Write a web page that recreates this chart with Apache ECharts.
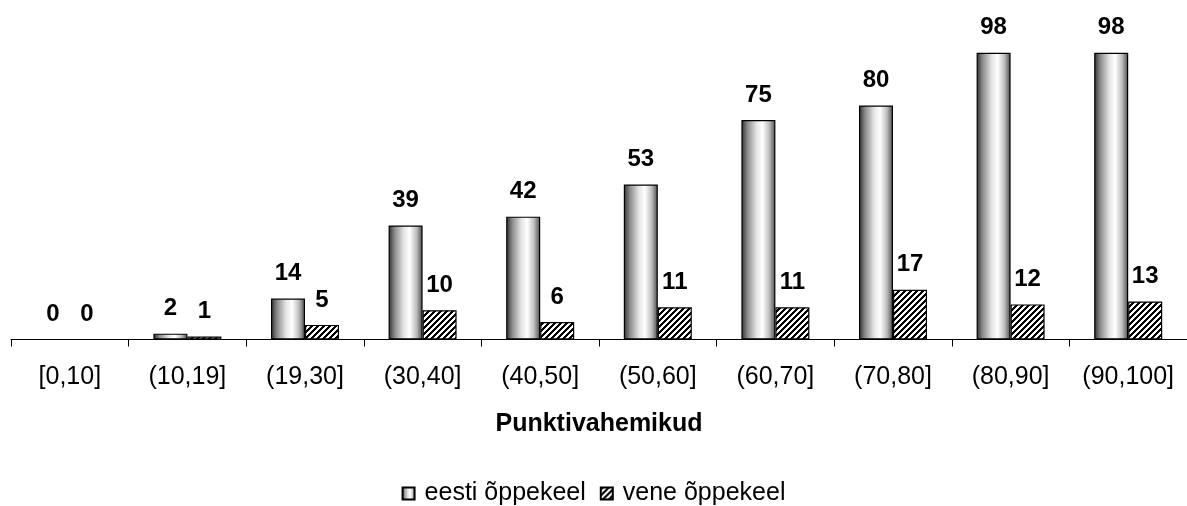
<!DOCTYPE html>
<html>
<head>
<meta charset="utf-8">
<script src="https://cdn.jsdelivr.net/npm/echarts@6/dist/echarts.min.js"></script>
<style>
html,body{margin:0;padding:0;background:#fff;}
#chart{width:1187px;height:506px;}
</style>
</head>
<body>
<div id="chart"></div>
<script>
var categories = ['[0,10]','(10,19]','(19,30]','(30,40]','(40,50]','(50,60]','(60,70]','(70,80]','(80,90]','(90,100]'];
var seriesNames = ['eesti õppekeel','vene õppekeel'];
var eestiValues = [0,2,14,39,42,53,75,80,98,98];
var veneValues = [0,1,5,10,6,11,11,17,12,13];
var axisTitle = 'Punktivahemikud';

function makeHatch(){
  var size = 6;
  var c = document.createElement('canvas');
  c.width = size; c.height = size;
  var ctx = c.getContext('2d');
  var img = ctx.createImageData(size,size);
  for (var y=0;y<size;y++){
    for (var x=0;x<size;x++){
      var v = ((x+y)%size) < 3 ? 0 : 255;
      var i = (y*size+x)*4;
      img.data[i]=v;img.data[i+1]=v;img.data[i+2]=v;img.data[i+3]=255;
    }
  }
  ctx.putImageData(img,0,0);
  return c;
}

var chart = echarts.init(document.getElementById('chart'), null, {renderer:'canvas'});
var font = 'Liberation Sans, Arial, sans-serif';
var cylinder = new echarts.graphic.LinearGradient(0,0,1,0,[
  {offset:0, color:'#2e2e2e'},
  {offset:0.18, color:'#8c8c8c'},
  {offset:0.45, color:'#e6e6e6'},
  {offset:0.62, color:'#ffffff'},
  {offset:0.82, color:'#bdbdbd'},
  {offset:1, color:'#4a4a4a'}
]);
var labelCfg = {
  show:true, position:'top', distance:13, color:'#000',
  fontFamily:font, fontSize:24, fontWeight:'bold'
};
chart.setOption({
  animation:false,
  backgroundColor:'#fff',
  grid:{left:11, top:47, width:1178.5, height:292.5, containLabel:false},
  legend:{
    data:seriesNames,
    icon:'rect',
    left:'center', top:481, padding:0,
    itemWidth:12, itemHeight:12, itemGap:14,
    textStyle:{fontFamily:font, fontSize:25, color:'#000', padding:[0,0,0,5]}
  },
  xAxis:{
    type:'category', data:categories,
    boundaryGap:true,
    axisLine:{show:true, lineStyle:{color:'#000', width:1}},
    axisTick:{show:true, length:7, alignWithLabel:false, lineStyle:{color:'#000'}},
    axisLabel:{color:'#000', fontFamily:font, fontSize:25, margin:25, interval:0},
    name:axisTitle, nameLocation:'middle', nameGap:72,
    nameTextStyle:{color:'#000', fontFamily:font, fontSize:25, fontWeight:'bold'}
  },
  yAxis:{type:'value', min:0, max:100, show:false, splitLine:{show:false}},
  series:[
    {
      name:seriesNames[0], type:'bar', data:eestiValues,
      barWidth:34, barGap:'0%',
      itemStyle:{color:cylinder, borderColor:'#000', borderWidth:1.2},
      label:labelCfg
    },
    {
      name:seriesNames[1], type:'bar', data:veneValues,
      barWidth:34, barGap:'0%',
      itemStyle:{color:{image:makeHatch(), repeat:'repeat'}, borderColor:'#000', borderWidth:1.2},
      label:labelCfg
    }
  ]
});
</script>
</body>
</html>
